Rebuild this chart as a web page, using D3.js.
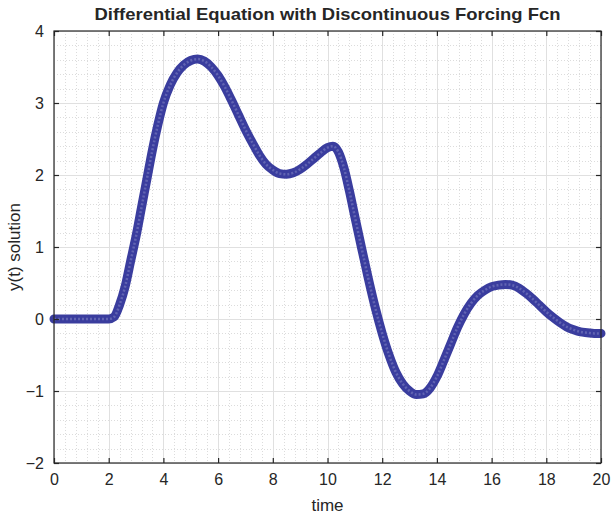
<!DOCTYPE html>
<html>
<head>
<meta charset="utf-8">
<script src="https://cdn.jsdelivr.net/npm/d3@7"></script>
<style>
  html, body { margin: 0; padding: 0; background: #fff; }
  svg { display: block; }
  text { font-family: "Liberation Sans", Arial, Helvetica, sans-serif; fill: #262626; }
</style>
</head>
<body>
<svg id="chart" width="612" height="518"></svg>
<script>
// ---- data ----
const time = [0, 0.5, 1, 1.5, 2, 2.2, 2.4, 2.6, 2.8, 3, 3.2, 3.4, 3.6, 3.8, 4, 4.25, 4.5, 4.75, 5, 5.25, 5.5, 5.75, 6, 6.25, 6.5, 6.75, 7, 7.25, 7.5, 7.75, 8, 8.25, 8.5, 8.75, 9, 9.25, 9.5, 9.75, 10, 10.2, 10.4, 10.6, 10.8, 11, 11.25, 11.5, 11.75, 12, 12.25, 12.5, 12.75, 13, 13.25, 13.5, 13.75, 14, 14.25, 14.5, 14.75, 15, 15.25, 15.5, 15.75, 16, 16.25, 16.5, 16.75, 17, 17.25, 17.5, 17.75, 18, 18.25, 18.5, 18.75, 19, 19.25, 19.5, 19.75, 20];
const ySolution = [0, 0, 0, 0, 0, 0.03, 0.2, 0.45, 0.8, 1.15, 1.55, 1.95, 2.35, 2.7, 3.0, 3.25, 3.42, 3.53, 3.59, 3.61, 3.58, 3.5, 3.38, 3.22, 3.03, 2.83, 2.63, 2.45, 2.28, 2.15, 2.07, 2.02, 2.01, 2.03, 2.08, 2.15, 2.23, 2.31, 2.38, 2.4, 2.32, 2.1, 1.78, 1.42, 0.98, 0.55, 0.15, -0.2, -0.5, -0.74, -0.9, -1.0, -1.05, -1.04, -0.96, -0.8, -0.58, -0.35, -0.12, 0.07, 0.22, 0.33, 0.4, 0.45, 0.47, 0.48, 0.47, 0.43, 0.36, 0.28, 0.19, 0.1, 0.02, -0.05, -0.11, -0.15, -0.18, -0.19, -0.2, -0.2];
const xTicks = [0, 2, 4, 6, 8, 10, 12, 14, 16, 18, 20];
const yTicks = [-2, -1, 0, 1, 2, 3, 4];
const titleText = "Differential Equation with Discontinuous Forcing Fcn";
const xLabelText = "time";
const yLabelText = "y(t) solution";

// ---- layout ----
const svg = d3.select("#chart");
const L = 54, R = 601, T = 31, B = 463;
const x = d3.scaleLinear().domain([0, 20]).range([L, R]);
const y = d3.scaleLinear().domain([-2, 4]).range([B, T]);

// minor grid
const xMinor = d3.range(0, 20.001, 0.4).filter(v => !xTicks.some(t => Math.abs(t - v) < 1e-6));
const yMinor = d3.range(-2, 4.001, 0.2).filter(v => !yTicks.some(t => Math.abs(t - v) < 1e-6));
const grid = svg.append("g");
grid.selectAll(".vxm").data(xMinor).join("line")
  .attr("x1", d => Math.round(x(d)) + 0.5).attr("x2", d => Math.round(x(d)) + 0.5)
  .attr("y1", T).attr("y2", B)
  .attr("stroke", "#dcdcdc").attr("stroke-width", 1).attr("stroke-dasharray", "1,2");
grid.selectAll(".hym").data(yMinor).join("line")
  .attr("y1", d => Math.round(y(d)) + 0.5).attr("y2", d => Math.round(y(d)) + 0.5)
  .attr("x1", L).attr("x2", R)
  .attr("stroke", "#dcdcdc").attr("stroke-width", 1).attr("stroke-dasharray", "1,2");
// major grid
grid.selectAll(".vx").data(xTicks).join("line")
  .attr("x1", d => Math.round(x(d)) + 0.5).attr("x2", d => Math.round(x(d)) + 0.5)
  .attr("y1", T).attr("y2", B)
  .attr("stroke", "#e0e0e0").attr("stroke-width", 1);
grid.selectAll(".hy").data(yTicks).join("line")
  .attr("y1", d => Math.round(y(d)) + 0.5).attr("y2", d => Math.round(y(d)) + 0.5)
  .attr("x1", L).attr("x2", R)
  .attr("stroke", "#e0e0e0").attr("stroke-width", 1);

// curve (dense open-circle markers rendered as a thick band)
const line = d3.line().x((d, i) => x(time[i])).y(d => y(d)).curve(d3.curveMonotoneX);
const plot = svg.append("g");
plot.append("path").datum(ySolution).attr("d", line)
  .attr("fill", "none").attr("stroke", "#3a3d9e").attr("stroke-width", 9)
  .attr("stroke-linecap", "round").attr("stroke-linejoin", "round");
plot.append("path").datum(ySolution).attr("d", line)
  .attr("fill", "none").attr("stroke", "#7275bb").attr("stroke-width", 2.5)
  .attr("stroke-dasharray", "2,2").attr("opacity", 0.7);

// axes (MATLAB style box with inward ticks)
const axB = d3.axisBottom(x).tickValues(xTicks).tickSize(-5).tickPadding(12).tickFormat(d3.format("d"));
const axT = d3.axisTop(x).tickValues(xTicks).tickSize(-5).tickFormat("");
const axL = d3.axisLeft(y).tickValues(yTicks).tickSize(-5).tickPadding(10).tickFormat(d3.format("d"));
const axR = d3.axisRight(y).tickValues(yTicks).tickSize(-5).tickFormat("");
function style(g) {
  g.select(".domain").attr("stroke", "#262626").attr("stroke-width", 1.2);
  g.selectAll(".tick line").attr("stroke", "#262626").attr("stroke-width", 1.2);
  g.selectAll(".tick text").attr("font-size", 16).attr("fill", "#262626")
    .style("font-family", "'Liberation Sans', Arial, sans-serif");
}
svg.append("g").attr("transform", `translate(0,${B})`).call(axB).call(style)
  .selectAll(".tick text").attr("dy", "0.6em");
svg.append("g").attr("transform", `translate(0,${T})`).call(axT).call(style);
svg.append("g").attr("transform", `translate(${L},0)`).call(axL).call(style);
svg.append("g").attr("transform", `translate(${R},0)`).call(axR).call(style);
svg.selectAll(".domain").attr("d", null);
svg.append("rect").attr("x", L).attr("y", T).attr("width", R - L).attr("height", B - T)
  .attr("fill", "none").attr("stroke", "#262626").attr("stroke-width", 1.2);

// labels
svg.append("text").attr("x", (L + R) / 2).attr("y", 20).attr("text-anchor", "middle")
  .attr("font-size", 17).attr("font-weight", "bold").attr("textLength", 466)
  .attr("lengthAdjust", "spacingAndGlyphs").text(titleText);
svg.append("text").attr("x", (L + R) / 2).attr("y", 511).attr("text-anchor", "middle")
  .attr("font-size", 17).text(xLabelText);
svg.append("text").attr("transform", `translate(20,${(T + B) / 2}) rotate(-90)`)
  .attr("text-anchor", "middle").attr("font-size", 17).text(yLabelText);
</script>
</body>
</html>
